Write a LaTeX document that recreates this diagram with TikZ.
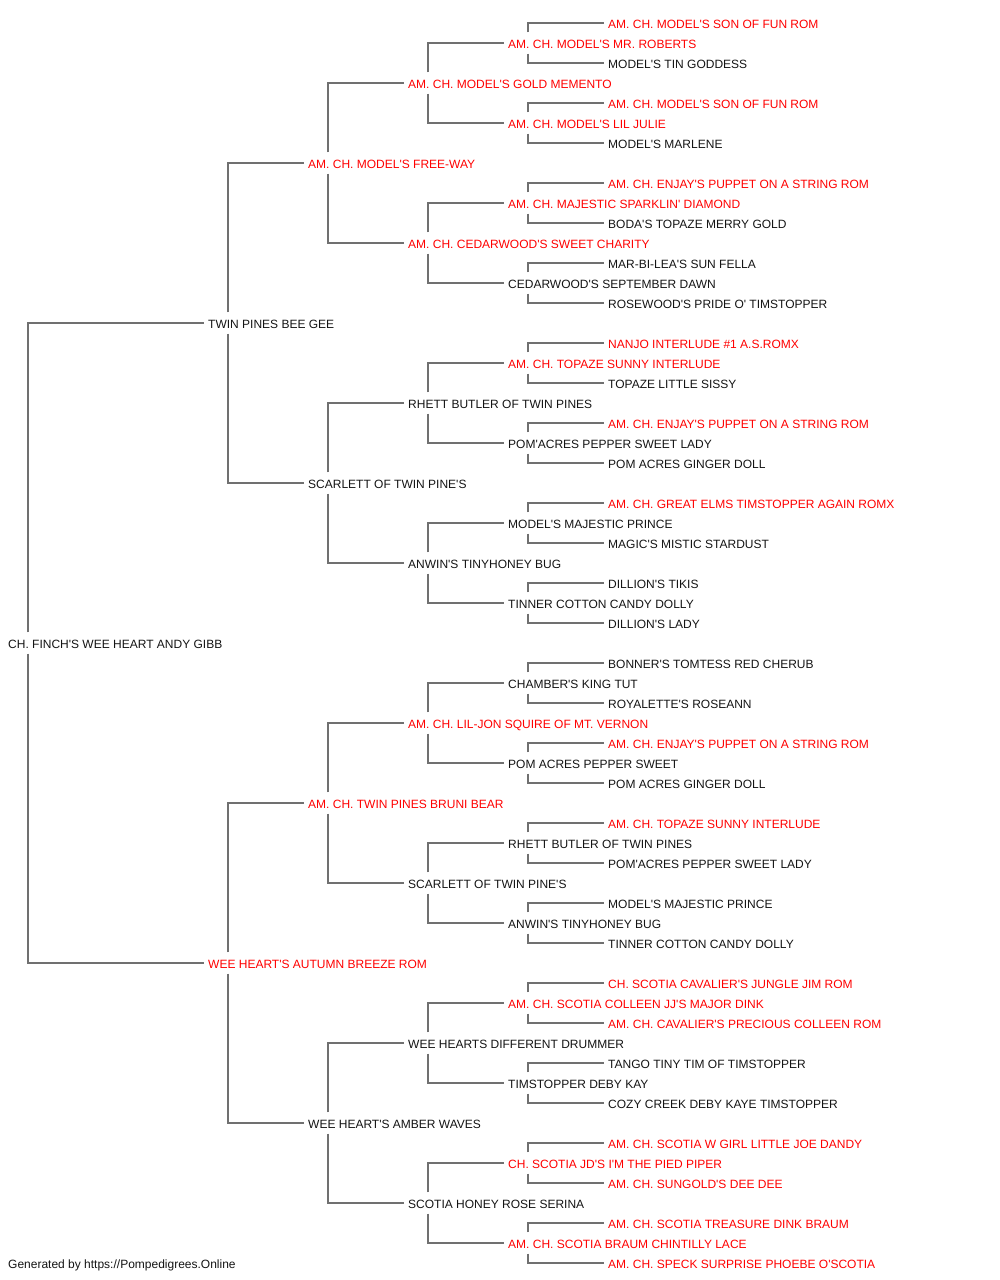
\documentclass[tikz,border=0pt]{standalone}
\usepackage{fontspec}
\newfontfamily\pedfont{Liberation Sans}
\usepackage{tikz}
\definecolor{linegray}{RGB}{112,112,112}
\definecolor{inkblack}{RGB}{20,20,20}
\definecolor{champred}{RGB}{255,0,0}
\tikzset{dog/.style={anchor=west, inner xsep=4pt, inner ysep=3.5pt,
  text height=12pt, text depth=2pt, text=inkblack,
  font=\pedfont\fontsize{12}{14}\selectfont}}
\tikzset{champ/.style={dog, text=champred}}
\tikzset{link/.style={draw=linegray, line width=1.5pt}}

\begin{document}
\begin{tikzpicture}[x=1pt, y=-1pt]
\useasboundingbox (0,0) rectangle (1000,1280);

% generation 0 and 1
\node[dog] (p) at (4,643) {CH. FINCH'S WEE HEART ANDY GIBB};
\node[dog] (ps) at (204,323) {TWIN PINES BEE GEE};
\node[champ] (pd) at (204,963) {WEE HEART'S AUTUMN BREEZE ROM};

% generation 2
\node[champ] (pss) at (304,163) {AM. CH. MODEL'S FREE-WAY};
\node[dog] (psd) at (304,483) {SCARLETT OF TWIN PINE'S};
\node[champ] (pds) at (304,803) {AM. CH. TWIN PINES BRUNI BEAR};
\node[dog] (pdd) at (304,1123) {WEE HEART'S AMBER WAVES};

% generation 3
\node[champ] (psss) at (404,83) {AM. CH. MODEL'S GOLD MEMENTO};
\node[champ] (pssd) at (404,243) {AM. CH. CEDARWOOD'S SWEET CHARITY};
\node[dog] (psds) at (404,403) {RHETT BUTLER OF TWIN PINES};
\node[dog] (psdd) at (404,563) {ANWIN'S TINYHONEY BUG};
\node[champ] (pdss) at (404,723) {AM. CH. LIL-JON SQUIRE OF MT. VERNON};
\node[dog] (pdsd) at (404,883) {SCARLETT OF TWIN PINE'S};
\node[dog] (pdds) at (404,1043) {WEE HEARTS DIFFERENT DRUMMER};
\node[dog] (pddd) at (404,1203) {SCOTIA HONEY ROSE SERINA};

% generation 4
\node[champ] (pssss) at (504,43) {AM. CH. MODEL'S MR. ROBERTS};
\node[champ] (psssd) at (504,123) {AM. CH. MODEL'S LIL JULIE};
\node[champ] (pssds) at (504,203) {AM. CH. MAJESTIC SPARKLIN' DIAMOND};
\node[dog] (pssdd) at (504,283) {CEDARWOOD'S SEPTEMBER DAWN};
\node[champ] (psdss) at (504,363) {AM. CH. TOPAZE SUNNY INTERLUDE};
\node[dog] (psdsd) at (504,443) {POM'ACRES PEPPER SWEET LADY};
\node[dog] (psdds) at (504,523) {MODEL'S MAJESTIC PRINCE};
\node[dog] (psddd) at (504,603) {TINNER COTTON CANDY DOLLY};
\node[dog] (pdsss) at (504,683) {CHAMBER'S KING TUT};
\node[dog] (pdssd) at (504,763) {POM ACRES PEPPER SWEET};
\node[dog] (pdsds) at (504,843) {RHETT BUTLER OF TWIN PINES};
\node[dog] (pdsdd) at (504,923) {ANWIN'S TINYHONEY BUG};
\node[champ] (pddss) at (504,1003) {AM. CH. SCOTIA COLLEEN JJ'S MAJOR DINK};
\node[dog] (pddsd) at (504,1083) {TIMSTOPPER DEBY KAY};
\node[champ] (pddds) at (504,1163) {CH. SCOTIA JD'S I'M THE PIED PIPER};
\node[champ] (pdddd) at (504,1243) {AM. CH. SCOTIA BRAUM CHINTILLY LACE};

% generation 5
\node[champ] (psssss) at (604,23) {AM. CH. MODEL'S SON OF FUN ROM};
\node[dog] (pssssd) at (604,63) {MODEL'S TIN GODDESS};
\node[champ] (psssds) at (604,103) {AM. CH. MODEL'S SON OF FUN ROM};
\node[dog] (psssdd) at (604,143) {MODEL'S MARLENE};
\node[champ] (pssdss) at (604,183) {AM. CH. ENJAY'S PUPPET ON A STRING ROM};
\node[dog] (pssdsd) at (604,223) {BODA'S TOPAZE MERRY GOLD};
\node[dog] (pssdds) at (604,263) {MAR-BI-LEA'S SUN FELLA};
\node[dog] (pssddd) at (604,303) {ROSEWOOD'S PRIDE O' TIMSTOPPER};
\node[champ] (psdsss) at (604,343) {NANJO INTERLUDE \#1 A.S.ROMX};
\node[dog] (psdssd) at (604,383) {TOPAZE LITTLE SISSY};
\node[champ] (psdsds) at (604,423) {AM. CH. ENJAY'S PUPPET ON A STRING ROM};
\node[dog] (psdsdd) at (604,463) {POM ACRES GINGER DOLL};
\node[champ] (psddss) at (604,503) {AM. CH. GREAT ELMS TIMSTOPPER AGAIN ROMX};
\node[dog] (psddsd) at (604,543) {MAGIC'S MISTIC STARDUST};
\node[dog] (psddds) at (604,583) {DILLION'S TIKIS};
\node[dog] (psdddd) at (604,623) {DILLION'S LADY};
\node[dog] (pdssss) at (604,663) {BONNER'S TOMTESS RED CHERUB};
\node[dog] (pdsssd) at (604,703) {ROYALETTE'S ROSEANN};
\node[champ] (pdssds) at (604,743) {AM. CH. ENJAY'S PUPPET ON A STRING ROM};
\node[dog] (pdssdd) at (604,783) {POM ACRES GINGER DOLL};
\node[champ] (pdsdss) at (604,823) {AM. CH. TOPAZE SUNNY INTERLUDE};
\node[dog] (pdsdsd) at (604,863) {POM'ACRES PEPPER SWEET LADY};
\node[dog] (pdsdds) at (604,903) {MODEL'S MAJESTIC PRINCE};
\node[dog] (pdsddd) at (604,943) {TINNER COTTON CANDY DOLLY};
\node[champ] (pddsss) at (604,983) {CH. SCOTIA CAVALIER'S JUNGLE JIM ROM};
\node[champ] (pddssd) at (604,1023) {AM. CH. CAVALIER'S PRECIOUS COLLEEN ROM};
\node[dog] (pddsds) at (604,1063) {TANGO TINY TIM OF TIMSTOPPER};
\node[dog] (pddsdd) at (604,1103) {COZY CREEK DEBY KAYE TIMSTOPPER};
\node[champ] (pdddss) at (604,1143) {AM. CH. SCOTIA W GIRL LITTLE JOE DANDY};
\node[champ] (pdddsd) at (604,1183) {AM. CH. SUNGOLD'S DEE DEE};
\node[champ] (pdddds) at (604,1223) {AM. CH. SCOTIA TREASURE DINK BRAUM};
\node[champ] (pddddd) at (604,1263) {AM. CH. SPECK SURPRISE PHOEBE O'SCOTIA};

\node[dog] (credit) at (4,1263) {Generated by https://Pompedigrees.Online};

% links, sire up and dam down
\draw[link] ([xshift=24pt]p.north west) |- (ps.west);
\draw[link] ([xshift=24pt]p.south west) |- (pd.west);

\draw[link] ([xshift=24pt]ps.north west) |- (pss.west);
\draw[link] ([xshift=24pt]ps.south west) |- (psd.west);
\draw[link] ([xshift=24pt]pd.north west) |- (pds.west);
\draw[link] ([xshift=24pt]pd.south west) |- (pdd.west);

\draw[link] ([xshift=24pt]pss.north west) |- (psss.west);
\draw[link] ([xshift=24pt]pss.south west) |- (pssd.west);
\draw[link] ([xshift=24pt]psd.north west) |- (psds.west);
\draw[link] ([xshift=24pt]psd.south west) |- (psdd.west);
\draw[link] ([xshift=24pt]pds.north west) |- (pdss.west);
\draw[link] ([xshift=24pt]pds.south west) |- (pdsd.west);
\draw[link] ([xshift=24pt]pdd.north west) |- (pdds.west);
\draw[link] ([xshift=24pt]pdd.south west) |- (pddd.west);

\draw[link] ([xshift=24pt]psss.north west) |- (pssss.west);
\draw[link] ([xshift=24pt]psss.south west) |- (psssd.west);
\draw[link] ([xshift=24pt]pssd.north west) |- (pssds.west);
\draw[link] ([xshift=24pt]pssd.south west) |- (pssdd.west);
\draw[link] ([xshift=24pt]psds.north west) |- (psdss.west);
\draw[link] ([xshift=24pt]psds.south west) |- (psdsd.west);
\draw[link] ([xshift=24pt]psdd.north west) |- (psdds.west);
\draw[link] ([xshift=24pt]psdd.south west) |- (psddd.west);
\draw[link] ([xshift=24pt]pdss.north west) |- (pdsss.west);
\draw[link] ([xshift=24pt]pdss.south west) |- (pdssd.west);
\draw[link] ([xshift=24pt]pdsd.north west) |- (pdsds.west);
\draw[link] ([xshift=24pt]pdsd.south west) |- (pdsdd.west);
\draw[link] ([xshift=24pt]pdds.north west) |- (pddss.west);
\draw[link] ([xshift=24pt]pdds.south west) |- (pddsd.west);
\draw[link] ([xshift=24pt]pddd.north west) |- (pddds.west);
\draw[link] ([xshift=24pt]pddd.south west) |- (pdddd.west);

\draw[link] ([xshift=24pt]pssss.north west) |- (psssss.west);
\draw[link] ([xshift=24pt]pssss.south west) |- (pssssd.west);
\draw[link] ([xshift=24pt]psssd.north west) |- (psssds.west);
\draw[link] ([xshift=24pt]psssd.south west) |- (psssdd.west);
\draw[link] ([xshift=24pt]pssds.north west) |- (pssdss.west);
\draw[link] ([xshift=24pt]pssds.south west) |- (pssdsd.west);
\draw[link] ([xshift=24pt]pssdd.north west) |- (pssdds.west);
\draw[link] ([xshift=24pt]pssdd.south west) |- (pssddd.west);
\draw[link] ([xshift=24pt]psdss.north west) |- (psdsss.west);
\draw[link] ([xshift=24pt]psdss.south west) |- (psdssd.west);
\draw[link] ([xshift=24pt]psdsd.north west) |- (psdsds.west);
\draw[link] ([xshift=24pt]psdsd.south west) |- (psdsdd.west);
\draw[link] ([xshift=24pt]psdds.north west) |- (psddss.west);
\draw[link] ([xshift=24pt]psdds.south west) |- (psddsd.west);
\draw[link] ([xshift=24pt]psddd.north west) |- (psddds.west);
\draw[link] ([xshift=24pt]psddd.south west) |- (psdddd.west);
\draw[link] ([xshift=24pt]pdsss.north west) |- (pdssss.west);
\draw[link] ([xshift=24pt]pdsss.south west) |- (pdsssd.west);
\draw[link] ([xshift=24pt]pdssd.north west) |- (pdssds.west);
\draw[link] ([xshift=24pt]pdssd.south west) |- (pdssdd.west);
\draw[link] ([xshift=24pt]pdsds.north west) |- (pdsdss.west);
\draw[link] ([xshift=24pt]pdsds.south west) |- (pdsdsd.west);
\draw[link] ([xshift=24pt]pdsdd.north west) |- (pdsdds.west);
\draw[link] ([xshift=24pt]pdsdd.south west) |- (pdsddd.west);
\draw[link] ([xshift=24pt]pddss.north west) |- (pddsss.west);
\draw[link] ([xshift=24pt]pddss.south west) |- (pddssd.west);
\draw[link] ([xshift=24pt]pddsd.north west) |- (pddsds.west);
\draw[link] ([xshift=24pt]pddsd.south west) |- (pddsdd.west);
\draw[link] ([xshift=24pt]pddds.north west) |- (pdddss.west);
\draw[link] ([xshift=24pt]pddds.south west) |- (pdddsd.west);
\draw[link] ([xshift=24pt]pdddd.north west) |- (pdddds.west);
\draw[link] ([xshift=24pt]pdddd.south west) |- (pddddd.west);
\end{tikzpicture}
\end{document}
